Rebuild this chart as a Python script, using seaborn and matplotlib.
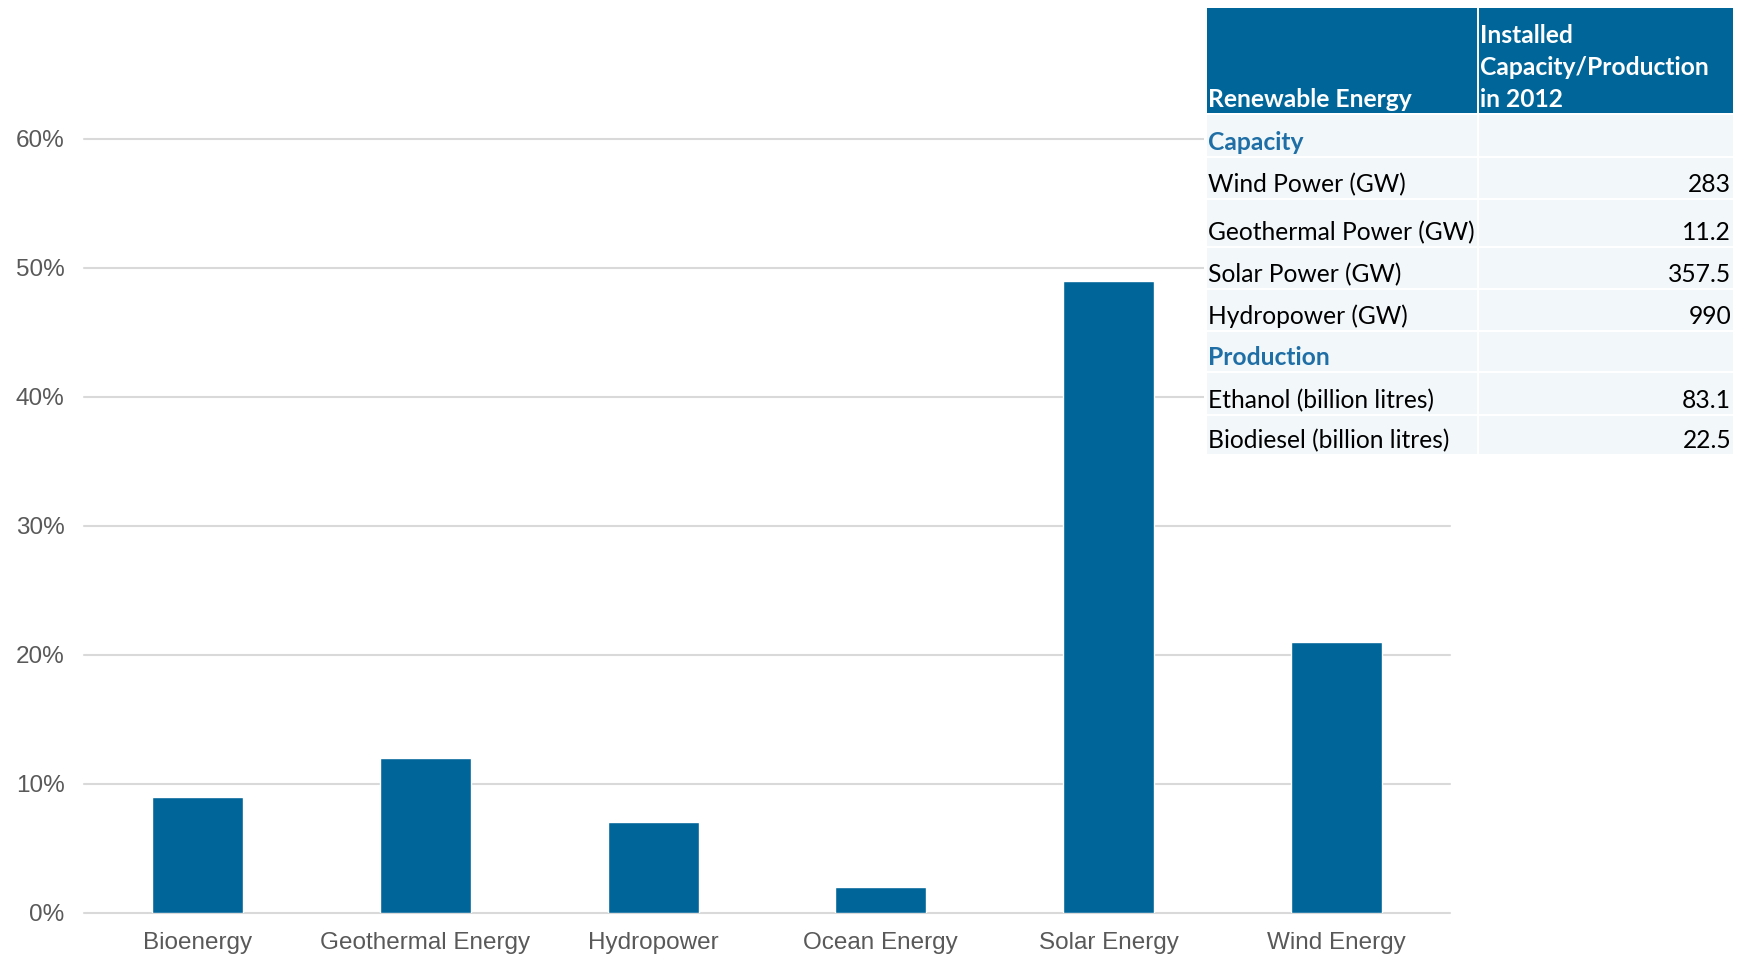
import matplotlib
matplotlib.use("Agg")
import matplotlib.pyplot as plt
import matplotlib.patches as mpatches
from matplotlib.ticker import PercentFormatter
import seaborn as sns
import pandas as pd

# Share of renewable energy categories
categories = ["Bioenergy", "Geothermal Energy", "Hydropower", "Ocean Energy",
              "Solar Energy", "Wind Energy"]
shares = [0.09, 0.12, 0.07, 0.02, 0.49, 0.21]

# Installed capacity / production in 2012
table_header = ["Renewable Energy", "Installed\nCapacity/Production\nin 2012"]
table_labels = ["Capacity", "Wind Power (GW)", "Geothermal Power (GW)",
                "Solar Power (GW)", "Hydropower (GW)", "Production",
                "Ethanol (billion litres)", "Biodiesel (billion litres)"]
table_values = ["", "283", "11.2", "357.5", "990", "", "83.1", "22.5"]
section_rows = {"Capacity", "Production"}

BLUE = "#00669A"
SECTION_BLUE = "#1F6FA6"
CELL = "#F2F7FA"
GRID = "#D9D9D9"
TICK = "#595959"

W, H = 1752, 956
sns.set_style("white")
plt.rcParams["font.family"] = ["Liberation Sans", "DejaVu Sans"]

fig = plt.figure(figsize=(W / 100, H / 100), dpi=100)
ax = fig.add_axes([84 / W, 1 - 912.7 / H, (1450 - 84) / W, (912.7 - 139) / H])

df = pd.DataFrame({"category": categories, "share": shares})
sns.barplot(data=df, x="category", y="share", color=BLUE, saturation=1,
            width=0.4, ax=ax, zorder=3)

ax.set_xlim(-0.5, len(categories) - 0.5)
ax.set_ylim(0, 0.6)
ax.set_yticks([0, 0.1, 0.2, 0.3, 0.4, 0.5, 0.6])
ax.yaxis.set_major_formatter(PercentFormatter(1.0, decimals=0))
ax.grid(axis="y", color=GRID, linewidth=1.5, zorder=0)
ax.grid(axis="x", visible=False)
ax.set_axisbelow(True)
for side in ax.spines:
    ax.spines[side].set_visible(False)
ax.tick_params(axis="both", length=0, labelsize=17.5, labelcolor=TICK)
ax.tick_params(axis="y", pad=14)
ax.tick_params(axis="x", pad=14)
ax.set_xlabel("")
ax.set_ylabel("")
for gl in ax.get_ygridlines():
    gl.set_clip_on(False)


def px(x, y):
    return x / W, 1 - y / H


def rect(x0, y0, x1, y1, color, z=5):
    fx0, fy1 = px(x0, y1)
    fig.patches.append(mpatches.Rectangle(
        (fx0, fy1), (x1 - x0) / W, (y1 - y0) / H, transform=fig.transFigure,
        facecolor=color, edgecolor="none", zorder=z))


# table
TL, TD, TR = 1207, 1477, 1733
rect(1204, 0, W, 470, "white", z=4)
rect(TL, 8, TD, 113, BLUE)
rect(TD + 2, 8, TR, 113, BLUE)

TFONT = ["Lato", "DejaVu Sans"]
TSIZE = 17.7
fig.text(*px(TL + 1, 107), table_header[0], color="white", fontsize=TSIZE,
         fontweight="bold", family=TFONT, va="baseline", ha="left", zorder=6)
fig.text(*px(TD + 3, 107), table_header[1], color="white", fontsize=TSIZE,
         fontweight="bold", family=TFONT, va="baseline", ha="left",
         linespacing=1.47, zorder=6)

row_edges = [115, 158, 200, 248, 290, 332, 373, 416, 456]
for i, (lab, val) in enumerate(zip(table_labels, table_values)):
    top, bot = row_edges[i], row_edges[i + 1] - 2
    rect(TL, top, TD, bot, CELL)
    rect(TD + 2, top, TR, bot, CELL)
    is_section = lab in section_rows
    fig.text(*px(TL + 1, bot - 6), lab, family=TFONT, fontsize=TSIZE,
             fontweight="bold" if is_section else "normal",
             color=SECTION_BLUE if is_section else "black",
             va="baseline", ha="left", zorder=6)
    if val:
        fig.text(*px(TR - 2, bot - 6), val, family=TFONT, fontsize=TSIZE,
                 color="black", va="baseline", ha="right", zorder=6)

fig.savefig("out.png", dpi=100, facecolor="white")
